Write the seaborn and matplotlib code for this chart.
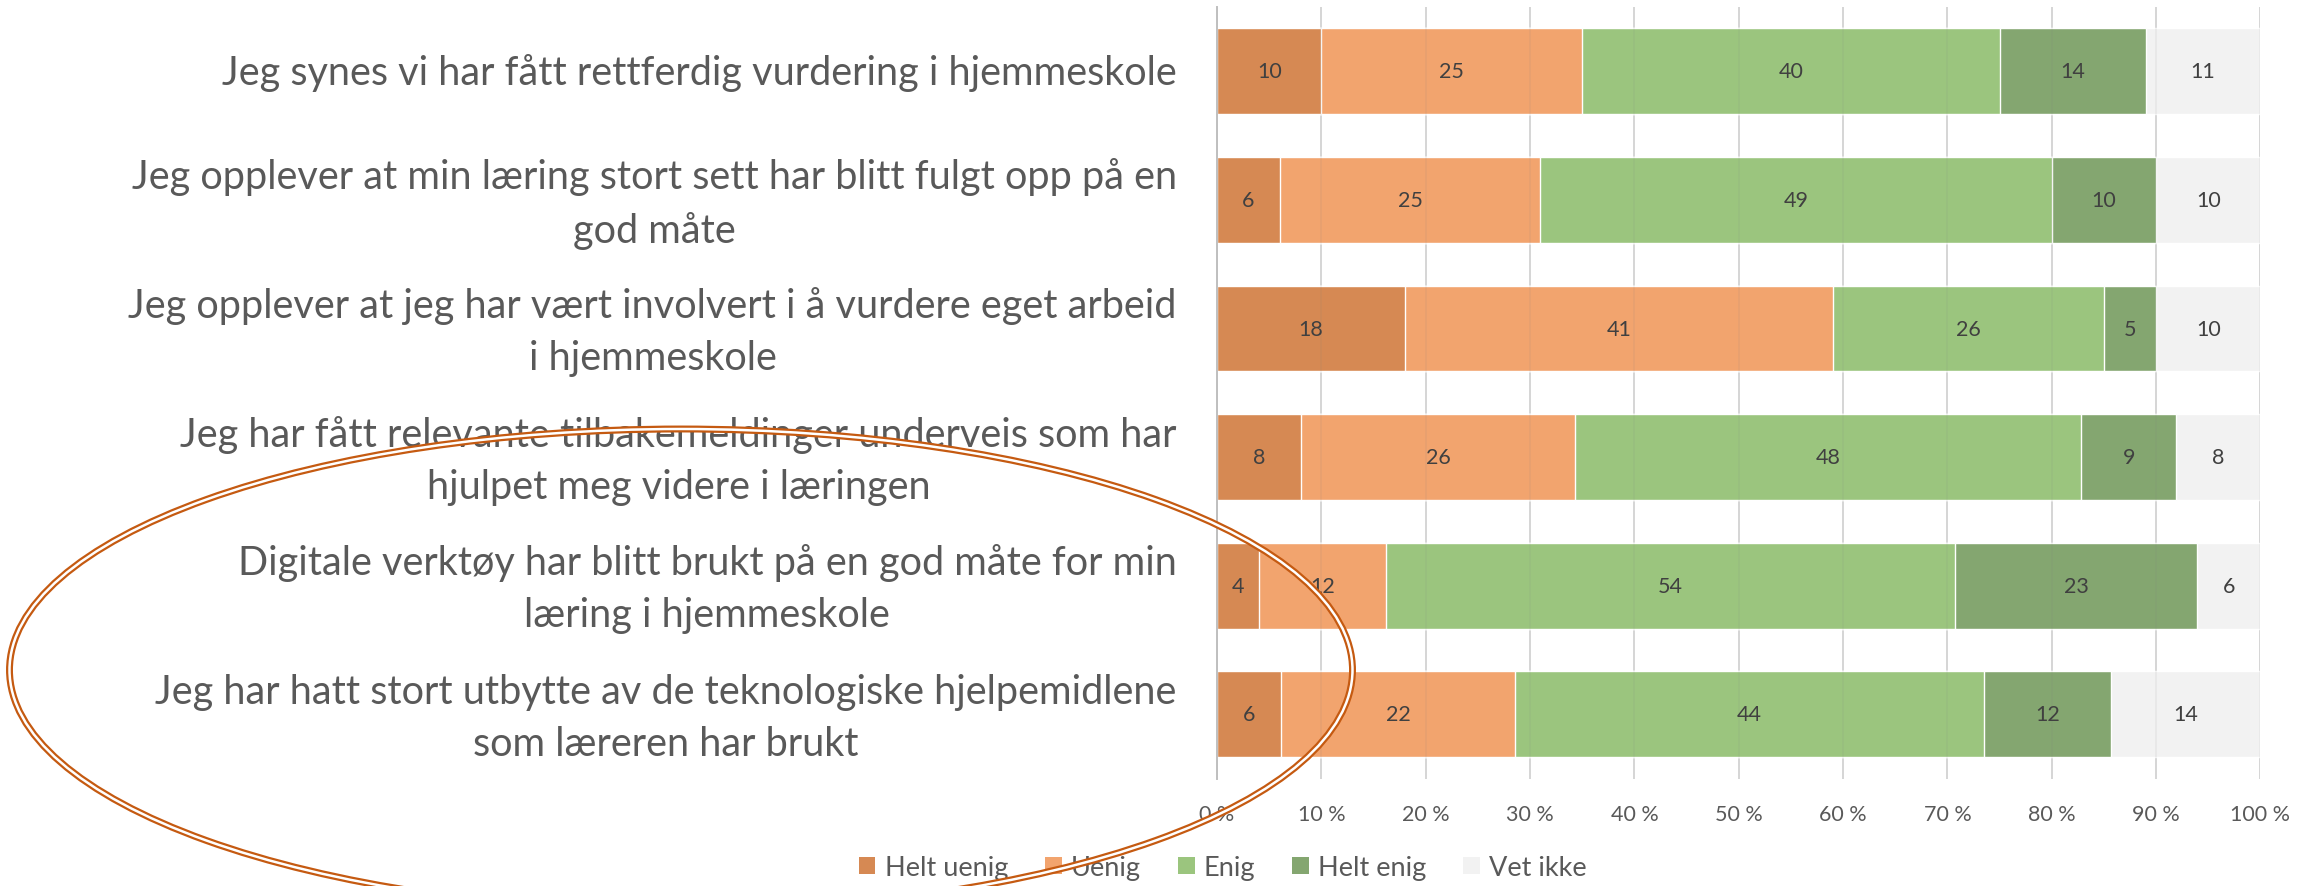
"""
Likert chart: pupils' view of assessment and digital tools in home school.
100 % stacked horizontal bars, drawn with seaborn as cumulative layers.
"""

import matplotlib
matplotlib.use('Agg')
import matplotlib.pyplot as plt
from matplotlib.patches import Ellipse, Patch
import pandas as pd
import seaborn as sns

# =============================================================================
# DATA
# =============================================================================

statements = [
    'Jeg synes vi har fått rettferdig vurdering i hjemmeskole',
    'Jeg opplever at min læring stort sett har blitt fulgt opp på en\ngod måte',
    'Jeg opplever at jeg har vært involvert i å vurdere eget arbeid\ni hjemmeskole',
    'Jeg har fått relevante tilbakemeldinger underveis som har\nhjulpet meg videre i læringen',
    'Digitale verktøy har blitt brukt på en god måte for min\nlæring i hjemmeskole',
    'Jeg har hatt stort utbytte av de teknologiske hjelpemidlene\nsom læreren har brukt',
]
responses = ['Helt uenig', 'Uenig', 'Enig', 'Helt enig', 'Vet ikke']

helt_uenig = [10, 6, 18, 8, 4, 6]
uenig = [25, 25, 41, 26, 12, 22]
enig = [40, 49, 26, 48, 54, 44]
helt_enig = [14, 10, 5, 9, 23, 12]
vet_ikke = [11, 10, 10, 8, 6, 14]

x_ticks = [0, 10, 20, 30, 40, 50, 60, 70, 80, 90, 100]
x_tick_labels = [f'{t} %' for t in x_ticks]

colors = ['#D68953', '#F2A46E', '#9BC57E', '#84A670', '#F2F2F2']
TEXT = '#595959'
ORANGE_RING = '#C55A11'

# =============================================================================
# PLOT
# =============================================================================

sns.set_theme(style='white')
plt.rcParams['font.family'] = ['Lato', 'DejaVu Sans']

counts = pd.DataFrame(
    dict(zip(responses, [helt_uenig, uenig, enig, helt_enig, vet_ikke])),
    index=statements,
)
# Excel's 100 % stacked chart normalises each row
share = counts.div(counts.sum(axis=1), axis=0) * 100
cum = share.cumsum(axis=1)

fig, ax = plt.subplots(figsize=(23.16, 8.87), dpi=100)
fig.subplots_adjust(left=0.5255, right=0.976, top=0.991, bottom=0.121)

# draw longest layer first, shorter ones on top
for resp, col in reversed(list(zip(responses, colors))):
    sns.barplot(x=cum[resp].values, y=statements, orient='h', color=col,
                saturation=1, width=0.667, ax=ax, zorder=2)

for i, stmt in enumerate(statements):
    left = 0
    for resp in responses:
        w = share.loc[stmt, resp]
        ax.text(left + w / 2, i, str(counts.loc[stmt, resp]), ha='center',
                va='center', fontsize=15.5, color='#404040', zorder=5)
        left += w

ax.set_xlim(0, 100)
ax.set_ylim(len(statements) - 0.5, -0.5)
ax.set_xticks(x_ticks)
ax.set_xticklabels(x_tick_labels, fontsize=15.5, color=TEXT)
# labels sit a touch above the bar centre in the original (ticks are hidden)
label_pos = [i - (0.065 if '\n' in s else 0.025) for i, s in enumerate(statements)]
ax.set_yticks(label_pos)
ax.set_yticklabels(statements, fontsize=28.5, color=TEXT, multialignment='center')
for lbl in ax.get_yticklabels():
    lbl.set_linespacing(1.5)
ax.set_xlabel('')
ax.set_ylabel('')
ax.tick_params(axis='x', length=0, pad=18)
ax.tick_params(axis='y', length=0, pad=29)

ax.xaxis.grid(True, color='#D9D9D9', lw=1.2, zorder=0)
ax.set_axisbelow(True)
# faint gridlines showing through the bars, like the Excel original
ax.vlines(x_ticks[1:], -0.5, len(statements) - 0.5, color='#808080',
          alpha=0.1, lw=1.2, zorder=3)
for side in ['top', 'right', 'bottom']:
    ax.spines[side].set_visible(False)
ax.spines['left'].set_color('#BFBFBF')
ax.spines['left'].set_linewidth(1.4)
ax.spines['left'].set_zorder(4)

handles = [Patch(facecolor=c, edgecolor='none') for c in colors]
fig.legend(handles, responses, loc='center', bbox_to_anchor=(0.528, 0.021),
           ncol=5, frameon=False, fontsize=19.5, handlelength=0.62,
           handleheight=0.62, handletextpad=0.35, columnspacing=1.35,
           labelcolor=TEXT)

# hand-drawn double ring around the last three statements
ring = dict(xy=(681 / 2316, 1 - 671 / 887), width=1343 / 2316,
            height=482 / 887, transform=fig.transFigure, fill=False)
fig.add_artist(Ellipse(**ring, edgecolor=ORANGE_RING, lw=5, zorder=10))
fig.add_artist(Ellipse(**ring, edgecolor='white', lw=1.8, zorder=11))

fig.savefig('out.png', dpi=100)
plt.close(fig)
